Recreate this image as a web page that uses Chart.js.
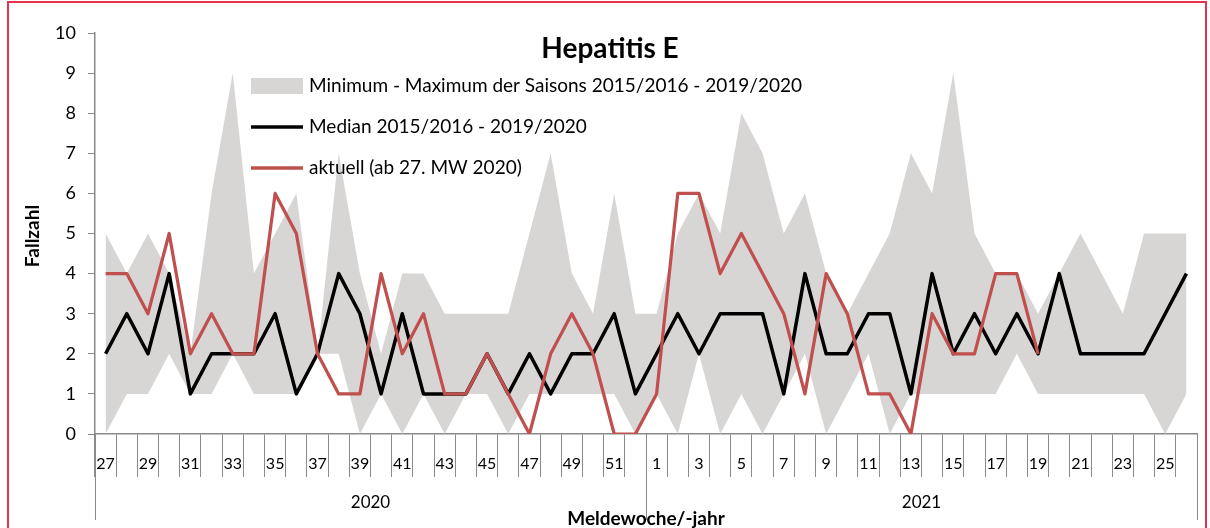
<!DOCTYPE html>
<html><head><meta charset="utf-8">
<script src="https://cdn.jsdelivr.net/npm/chart.js@4.4.1/dist/chart.umd.min.js"></script>
<style>html,body{margin:0;padding:0;background:#fff;}canvas{display:block}</style>
</head><body>
<canvas id="c" width="1210" height="528"></canvas>
<script>
// ---- data ----
const weeks = ['27','28','29','30','31','32','33','34','35','36','37','38','39','40','41','42','43','44','45','46','47','48','49','50','51','52',
               '1','2','3','4','5','6','7','8','9','10','11','12','13','14','15','16','17','18','19','20','21','22','23','24','25','26'];
const years = ['2020','2021'];
const weeksPerYear = [26, 26];
const median  = [2,3,2,4,1,2,2,2,3,1,2,4,3,1,3,1,1,1,2,1,2,1,2,2,3,1,
                 2,3,2,3,3,3,1,4,2,2,3,3,1,4,2,3,2,3,2,4,2,2,2,2,3,4];
const aktuell = [4,4,3,5,2,3,2,2,6,5,2,1,1,4,2,3,1,1,2,1,0,2,3,2,0,0,
                 1,6,6,4,5,4,3,1,4,3,1,1,0,3,2,2,4,4,2,null,null,null,null,null,null,null];
const minimum = [0,1,1,2,1,1,2,1,1,1,2,2,0,1,0,1,0,1,1,0,1,1,1,1,1,0,
                 1,0,2,0,1,0,1,2,0,1,2,0,1,1,1,1,1,2,1,1,1,1,1,1,0,1];
const maximum = [5,4,5,4,2,6,9,4,5,6,2,7,4,2,4,4,3,3,3,3,5,7,4,3,6,3,
                 3,5,6,5,8,7,5,6,4,3,4,5,7,6,9,5,4,4,3,4,5,4,3,5,5,5];
const yTickValues = [0,1,2,3,4,5,6,7,8,9,10];
const seriesNames = ['Minimum - Maximum der Saisons 2015/2016 - 2019/2020','Median 2015/2016 - 2019/2020','aktuell (ab 27. MW 2020)'];
const titleText = 'Hepatitis E';
const yTitle = 'Fallzahl';
const xTitle = 'Meldewoche/-jahr';

// ---- styles ----
const FONT = 'Lato, "Open Sans", sans-serif';
const BAND = 'rgb(216,213,213)';
const RED = '#C0504D';
const AXIS = '#8a8a8a';

const decor = {
  id: 'decor',
  afterDraw(chart) {
    const ctx = chart.ctx, xs = chart.scales.x, ca = chart.chartArea;
    ctx.save();
    // outer frame
    ctx.strokeStyle = '#e5334b'; ctx.lineWidth = 2;
    ctx.strokeRect(8, 2, 1198, 540);
    // title
    ctx.fillStyle = '#000';
    ctx.textAlign = 'center'; ctx.textBaseline = 'alphabetic';
    ctx.font = 'bold 28px ' + FONT;
    ctx.fillText(titleText, 610, 58);
    // legend
    ctx.textAlign = 'left';
    ctx.font = '19px ' + FONT;
    const lx = 251, lw = 52, tx = 309;
    const rows = [86, 127, 168];
    ctx.fillStyle = BAND; ctx.fillRect(lx, rows[0]-8, lw, 16);
    ctx.lineWidth = 3.5; ctx.lineCap = 'butt';
    ctx.strokeStyle = '#000'; ctx.beginPath(); ctx.moveTo(lx, rows[1]); ctx.lineTo(lx+lw, rows[1]); ctx.stroke();
    ctx.strokeStyle = RED; ctx.beginPath(); ctx.moveTo(lx, rows[2]); ctx.lineTo(lx+lw, rows[2]); ctx.stroke();
    ctx.fillStyle = '#000'; ctx.textBaseline = 'middle';
    seriesNames.forEach((s, i) => ctx.fillText(s, tx, rows[i]));
    // year groups
    const half = (xs.getPixelForValue(1) - xs.getPixelForValue(0)) / 2;
    let start = 0;
    ctx.strokeStyle = AXIS; ctx.lineWidth = 1;
    ctx.font = '17px ' + FONT; ctx.textAlign = 'center';
    const bounds = [xs.getPixelForValue(0) - half];
    weeksPerYear.forEach((n, g) => {
      const left = xs.getPixelForValue(start) - half;
      const right = xs.getPixelForValue(start + n - 1) + half;
      bounds.push(right);
      ctx.fillText(years[g], (left + right) / 2, 503);
      start += n;
    });
    bounds.forEach(b => { ctx.beginPath(); ctx.moveTo(Math.round(b)+0.5, ca.bottom); ctx.lineTo(Math.round(b)+0.5, 520); ctx.stroke(); });
    // axis titles
    ctx.font = 'bold 19px ' + FONT;
    ctx.fillText(xTitle, (ca.left + ca.right) / 2, 519);
    ctx.translate(33, 236); ctx.rotate(-Math.PI / 2);
    ctx.fillText(yTitle, 0, 0);
    ctx.restore();
  }
};

new Chart(document.getElementById('c'), {
  type: 'line',
  data: {
    labels: weeks,
    datasets: [
      { label: seriesNames[2], data: aktuell, borderColor: RED, borderWidth: 3.25, pointRadius: 0, fill: false, tension: 0, spanGaps: false },
      { label: seriesNames[1], data: median, borderColor: '#000', borderWidth: 3.5, pointRadius: 0, fill: false, tension: 0 },
      { label: 'min', data: minimum, borderWidth: 0, borderColor: 'rgba(0,0,0,0)', pointRadius: 0, fill: false, tension: 0 },
      { label: seriesNames[0], data: maximum, borderWidth: 0, borderColor: 'rgba(0,0,0,0)', backgroundColor: BAND, pointRadius: 0, fill: '-1', tension: 0 }
    ]
  },
  options: {
    responsive: false, animation: false, devicePixelRatio: 1,
    layout: { padding: { top: 33, right: 13, bottom: 0, left: 0 } },
    elements: { line: { borderJoinStyle: 'round', borderCapStyle: 'butt' } },
    plugins: { legend: { display: false }, tooltip: { enabled: false }, title: { display: false } },
    scales: {
      x: {
        type: 'category', offset: true,
        grid: { display: true, drawOnChartArea: false, drawTicks: true, tickLength: 43, offset: true, color: AXIS, lineWidth: 1 },
        border: { display: true, color: AXIS, width: 1.5 },
        ticks: { autoSkip: false, maxRotation: 0, minRotation: 0, padding: -23, color: '#000', font: { family: FONT, size: 16 },
                 callback: (v, i) => (i % 2 === 0 ? weeks[i] : '') },
        afterFit: s => { s.height = 94; }
      },
      y: {
        min: 0, max: 10,
        afterBuildTicks: s => { s.ticks = yTickValues.map(v => ({ value: v })); },
        grid: { display: true, drawOnChartArea: false, drawTicks: true, tickLength: 7, color: AXIS, lineWidth: 1 },
        border: { display: true, color: AXIS, width: 1.5 },
        ticks: { padding: 12, color: '#000', font: { family: FONT, size: 18 } },
        afterFit: s => { s.width = 95; }
      }
    }
  },
  plugins: [decor]
});
</script>
</body></html>
